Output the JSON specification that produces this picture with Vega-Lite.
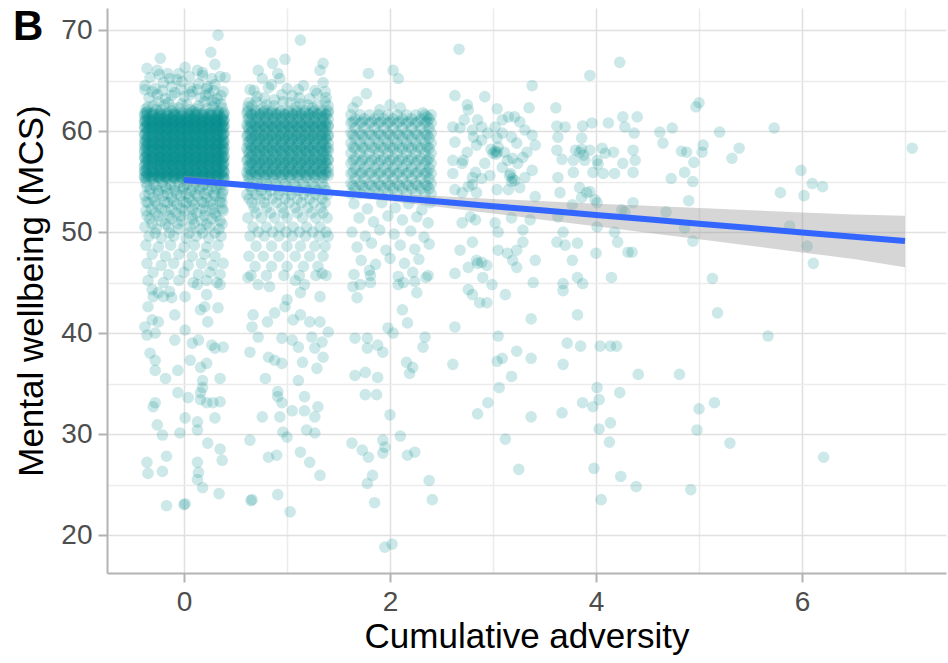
{"$schema":"https://vega.github.io/schema/vega-lite/v6.json",
"width":839,"height":565,"autosize":{"type":"none"},
"padding":{"left":107,"top":8,"right":2,"bottom":90},
"background":"white",
"config":{"view":{"stroke":null},"font":"Liberation Sans",
"axis":{"domainColor":"#b3b3b3","domainWidth":2,"tickColor":"#b3b3b3","tickWidth":2,"tickSize":9,"labelColor":"#4d4d4d","labelFontSize":28,"labelPadding":6,"titleFontSize":35,"titleFontWeight":"normal","titleColor":"#000000","gridWidth":1.5}},
"title":{"text":"B","anchor":"start","frame":"group","orient":"none","baseline":"alphabetic","align":"left","dy":32,"dx":-94,"fontSize":42,"fontWeight":"bold","color":"#000000"},
"datasets":{
"pts":[
{"x":-0.38,"y":55.5},{"x":-0.31,"y":55.5},{"x":-0.24,"y":55.5},{"x":-0.17,"y":55.5},{"x":-0.1,"y":55.5},{"x":-0.03,"y":55.5},{"x":0.04,"y":55.5},{"x":0.11,"y":55.5},{"x":0.18,"y":55.5},{"x":0.25,"y":55.5},{"x":0.32,"y":55.5},{"x":0.38,"y":55.5},
{"x":-0.38,"y":56.1},{"x":-0.31,"y":56.1},{"x":-0.24,"y":56.1},{"x":-0.17,"y":56.1},{"x":-0.1,"y":56.1},{"x":-0.03,"y":56.1},{"x":0.04,"y":56.1},{"x":0.11,"y":56.1},{"x":0.18,"y":56.1},{"x":0.25,"y":56.1},{"x":0.32,"y":56.1},{"x":0.38,"y":56.1},
{"x":-0.38,"y":56.7},{"x":-0.31,"y":56.7},{"x":-0.24,"y":56.7},{"x":-0.17,"y":56.7},{"x":-0.1,"y":56.7},{"x":-0.03,"y":56.7},{"x":0.04,"y":56.7},{"x":0.11,"y":56.7},{"x":0.18,"y":56.7},{"x":0.25,"y":56.7},{"x":0.32,"y":56.7},{"x":0.38,"y":56.7},
{"x":-0.38,"y":57.3},{"x":-0.31,"y":57.3},{"x":-0.24,"y":57.3},{"x":-0.17,"y":57.3},{"x":-0.1,"y":57.3},{"x":-0.03,"y":57.3},{"x":0.04,"y":57.3},{"x":0.11,"y":57.3},{"x":0.18,"y":57.3},{"x":0.25,"y":57.3},{"x":0.32,"y":57.3},{"x":0.38,"y":57.3},
{"x":-0.38,"y":57.9},{"x":-0.31,"y":57.9},{"x":-0.24,"y":57.9},{"x":-0.17,"y":57.9},{"x":-0.1,"y":57.9},{"x":-0.03,"y":57.9},{"x":0.04,"y":57.9},{"x":0.11,"y":57.9},{"x":0.18,"y":57.9},{"x":0.25,"y":57.9},{"x":0.32,"y":57.9},{"x":0.38,"y":57.9},
{"x":-0.38,"y":58.5},{"x":-0.31,"y":58.5},{"x":-0.24,"y":58.5},{"x":-0.17,"y":58.5},{"x":-0.1,"y":58.5},{"x":-0.03,"y":58.5},{"x":0.04,"y":58.5},{"x":0.11,"y":58.5},{"x":0.18,"y":58.5},{"x":0.25,"y":58.5},{"x":0.32,"y":58.5},{"x":0.38,"y":58.5},
{"x":-0.38,"y":59.1},{"x":-0.31,"y":59.1},{"x":-0.24,"y":59.1},{"x":-0.17,"y":59.1},{"x":-0.1,"y":59.1},{"x":-0.03,"y":59.1},{"x":0.04,"y":59.1},{"x":0.11,"y":59.1},{"x":0.18,"y":59.1},{"x":0.25,"y":59.1},{"x":0.32,"y":59.1},{"x":0.38,"y":59.1},
{"x":-0.38,"y":59.7},{"x":-0.31,"y":59.7},{"x":-0.24,"y":59.7},{"x":-0.17,"y":59.7},{"x":-0.1,"y":59.7},{"x":-0.03,"y":59.7},{"x":0.04,"y":59.7},{"x":0.11,"y":59.7},{"x":0.18,"y":59.7},{"x":0.25,"y":59.7},{"x":0.32,"y":59.7},{"x":0.38,"y":59.7},
{"x":-0.38,"y":60.3},{"x":-0.31,"y":60.3},{"x":-0.24,"y":60.3},{"x":-0.17,"y":60.3},{"x":-0.1,"y":60.3},{"x":-0.03,"y":60.3},{"x":0.04,"y":60.3},{"x":0.11,"y":60.3},{"x":0.18,"y":60.3},{"x":0.25,"y":60.3},{"x":0.32,"y":60.3},{"x":0.38,"y":60.3},
{"x":-0.38,"y":60.9},{"x":-0.31,"y":60.9},{"x":-0.24,"y":60.9},{"x":-0.17,"y":60.9},{"x":-0.1,"y":60.9},{"x":-0.03,"y":60.9},{"x":0.04,"y":60.9},{"x":0.11,"y":60.9},{"x":0.18,"y":60.9},{"x":0.25,"y":60.9},{"x":0.32,"y":60.9},{"x":0.38,"y":60.9},
{"x":-0.38,"y":61.5},{"x":-0.31,"y":61.5},{"x":-0.24,"y":61.5},{"x":-0.17,"y":61.5},{"x":-0.1,"y":61.5},{"x":-0.03,"y":61.5},{"x":0.04,"y":61.5},{"x":0.11,"y":61.5},{"x":0.18,"y":61.5},{"x":0.25,"y":61.5},{"x":0.32,"y":61.5},{"x":0.38,"y":61.5},
{"x":-0.35,"y":55.8},{"x":-0.27,"y":55.8},{"x":-0.2,"y":55.8},{"x":-0.13,"y":55.8},{"x":-0.06,"y":55.8},{"x":0.01,"y":55.8},{"x":0.08,"y":55.8},{"x":0.15,"y":55.8},{"x":0.22,"y":55.8},{"x":0.29,"y":55.8},{"x":0.36,"y":55.8},
{"x":-0.35,"y":56.4},{"x":-0.27,"y":56.4},{"x":-0.2,"y":56.4},{"x":-0.13,"y":56.4},{"x":-0.06,"y":56.4},{"x":0.01,"y":56.4},{"x":0.08,"y":56.4},{"x":0.15,"y":56.4},{"x":0.22,"y":56.4},{"x":0.29,"y":56.4},{"x":0.36,"y":56.4},
{"x":-0.35,"y":57},{"x":-0.27,"y":57},{"x":-0.2,"y":57},{"x":-0.13,"y":57},{"x":-0.06,"y":57},{"x":0.01,"y":57},{"x":0.08,"y":57},{"x":0.15,"y":57},{"x":0.22,"y":57},{"x":0.29,"y":57},{"x":0.36,"y":57},
{"x":-0.35,"y":57.6},{"x":-0.27,"y":57.6},{"x":-0.2,"y":57.6},{"x":-0.13,"y":57.6},{"x":-0.06,"y":57.6},{"x":0.01,"y":57.6},{"x":0.08,"y":57.6},{"x":0.15,"y":57.6},{"x":0.22,"y":57.6},{"x":0.29,"y":57.6},{"x":0.36,"y":57.6},
{"x":-0.35,"y":58.2},{"x":-0.27,"y":58.2},{"x":-0.2,"y":58.2},{"x":-0.13,"y":58.2},{"x":-0.06,"y":58.2},{"x":0.01,"y":58.2},{"x":0.08,"y":58.2},{"x":0.15,"y":58.2},{"x":0.22,"y":58.2},{"x":0.29,"y":58.2},{"x":0.36,"y":58.2},
{"x":-0.35,"y":58.8},{"x":-0.27,"y":58.8},{"x":-0.2,"y":58.8},{"x":-0.13,"y":58.8},{"x":-0.06,"y":58.8},{"x":0.01,"y":58.8},{"x":0.08,"y":58.8},{"x":0.15,"y":58.8},{"x":0.22,"y":58.8},{"x":0.29,"y":58.8},{"x":0.36,"y":58.8},
{"x":-0.35,"y":59.4},{"x":-0.27,"y":59.4},{"x":-0.2,"y":59.4},{"x":-0.13,"y":59.4},{"x":-0.06,"y":59.4},{"x":0.01,"y":59.4},{"x":0.08,"y":59.4},{"x":0.15,"y":59.4},{"x":0.22,"y":59.4},{"x":0.29,"y":59.4},{"x":0.36,"y":59.4},
{"x":-0.35,"y":60},{"x":-0.27,"y":60},{"x":-0.2,"y":60},{"x":-0.13,"y":60},{"x":-0.06,"y":60},{"x":0.01,"y":60},{"x":0.08,"y":60},{"x":0.15,"y":60},{"x":0.22,"y":60},{"x":0.29,"y":60},{"x":0.36,"y":60},
{"x":-0.35,"y":60.6},{"x":-0.27,"y":60.6},{"x":-0.2,"y":60.6},{"x":-0.13,"y":60.6},{"x":-0.06,"y":60.6},{"x":0.01,"y":60.6},{"x":0.08,"y":60.6},{"x":0.15,"y":60.6},{"x":0.22,"y":60.6},{"x":0.29,"y":60.6},{"x":0.36,"y":60.6},
{"x":-0.35,"y":61.2},{"x":-0.27,"y":61.2},{"x":-0.2,"y":61.2},{"x":-0.13,"y":61.2},{"x":-0.06,"y":61.2},{"x":0.01,"y":61.2},{"x":0.08,"y":61.2},{"x":0.15,"y":61.2},{"x":0.22,"y":61.2},{"x":0.29,"y":61.2},{"x":0.36,"y":61.2},
{"x":-0.36,"y":55.6},{"x":-0.29,"y":55.6},{"x":-0.22,"y":55.6},{"x":-0.15,"y":55.6},{"x":-0.08,"y":55.6},{"x":-0.01,"y":55.6},{"x":0.06,"y":55.6},{"x":0.13,"y":55.6},{"x":0.2,"y":55.6},{"x":0.27,"y":55.6},{"x":0.34,"y":55.6},
{"x":-0.36,"y":56.3},{"x":-0.29,"y":56.3},{"x":-0.22,"y":56.3},{"x":-0.15,"y":56.3},{"x":-0.08,"y":56.3},{"x":-0.01,"y":56.3},{"x":0.06,"y":56.3},{"x":0.13,"y":56.3},{"x":0.2,"y":56.3},{"x":0.27,"y":56.3},{"x":0.34,"y":56.3},
{"x":-0.36,"y":57.1},{"x":-0.29,"y":57.1},{"x":-0.22,"y":57.1},{"x":-0.15,"y":57.1},{"x":-0.08,"y":57.1},{"x":-0.01,"y":57.1},{"x":0.06,"y":57.1},{"x":0.13,"y":57.1},{"x":0.2,"y":57.1},{"x":0.27,"y":57.1},{"x":0.34,"y":57.1},
{"x":-0.36,"y":57.8},{"x":-0.29,"y":57.8},{"x":-0.22,"y":57.8},{"x":-0.15,"y":57.8},{"x":-0.08,"y":57.8},{"x":-0.01,"y":57.8},{"x":0.06,"y":57.8},{"x":0.13,"y":57.8},{"x":0.2,"y":57.8},{"x":0.27,"y":57.8},{"x":0.34,"y":57.8},
{"x":-0.36,"y":58.6},{"x":-0.29,"y":58.6},{"x":-0.22,"y":58.6},{"x":-0.15,"y":58.6},{"x":-0.08,"y":58.6},{"x":-0.01,"y":58.6},{"x":0.06,"y":58.6},{"x":0.13,"y":58.6},{"x":0.2,"y":58.6},{"x":0.27,"y":58.6},{"x":0.34,"y":58.6},
{"x":-0.36,"y":59.3},{"x":-0.29,"y":59.3},{"x":-0.22,"y":59.3},{"x":-0.15,"y":59.3},{"x":-0.08,"y":59.3},{"x":-0.01,"y":59.3},{"x":0.06,"y":59.3},{"x":0.13,"y":59.3},{"x":0.2,"y":59.3},{"x":0.27,"y":59.3},{"x":0.34,"y":59.3},
{"x":-0.36,"y":60.1},{"x":-0.29,"y":60.1},{"x":-0.22,"y":60.1},{"x":-0.15,"y":60.1},{"x":-0.08,"y":60.1},{"x":-0.01,"y":60.1},{"x":0.06,"y":60.1},{"x":0.13,"y":60.1},{"x":0.2,"y":60.1},{"x":0.27,"y":60.1},{"x":0.34,"y":60.1},
{"x":-0.36,"y":60.8},{"x":-0.29,"y":60.8},{"x":-0.22,"y":60.8},{"x":-0.15,"y":60.8},{"x":-0.08,"y":60.8},{"x":-0.01,"y":60.8},{"x":0.06,"y":60.8},{"x":0.13,"y":60.8},{"x":0.2,"y":60.8},{"x":0.27,"y":60.8},{"x":0.34,"y":60.8},
{"x":-0.36,"y":61.6},{"x":-0.29,"y":61.6},{"x":-0.22,"y":61.6},{"x":-0.15,"y":61.6},{"x":-0.08,"y":61.6},{"x":-0.01,"y":61.6},{"x":0.06,"y":61.6},{"x":0.13,"y":61.6},{"x":0.2,"y":61.6},{"x":0.27,"y":61.6},{"x":0.34,"y":61.6},
{"x":-0.37,"y":55.3},{"x":-0.3,"y":55.3},{"x":-0.23,"y":55.3},{"x":-0.16,"y":55.3},{"x":-0.09,"y":55.3},{"x":-0.02,"y":55.3},{"x":0.05,"y":55.3},{"x":0.12,"y":55.3},{"x":0.19,"y":55.3},{"x":0.26,"y":55.3},{"x":0.33,"y":55.3},{"x":0.39,"y":55.3},
{"x":-0.37,"y":55.9},{"x":-0.3,"y":55.9},{"x":-0.23,"y":55.9},{"x":-0.16,"y":55.9},{"x":-0.09,"y":55.9},{"x":-0.02,"y":55.9},{"x":0.05,"y":55.9},{"x":0.12,"y":55.9},{"x":0.19,"y":55.9},{"x":0.26,"y":55.9},{"x":0.33,"y":55.9},{"x":0.39,"y":55.9},
{"x":-0.37,"y":56.9},{"x":-0.3,"y":56.9},{"x":-0.23,"y":56.9},{"x":-0.16,"y":56.9},{"x":-0.09,"y":56.9},{"x":-0.02,"y":56.9},{"x":0.05,"y":56.9},{"x":0.12,"y":56.9},{"x":0.19,"y":56.9},{"x":0.26,"y":56.9},{"x":0.33,"y":56.9},{"x":0.39,"y":56.9},
{"x":-0.37,"y":57.5},{"x":-0.3,"y":57.5},{"x":-0.23,"y":57.5},{"x":-0.16,"y":57.5},{"x":-0.09,"y":57.5},{"x":-0.02,"y":57.5},{"x":0.05,"y":57.5},{"x":0.12,"y":57.5},{"x":0.19,"y":57.5},{"x":0.26,"y":57.5},{"x":0.33,"y":57.5},{"x":0.39,"y":57.5},
{"x":-0.37,"y":58.3},{"x":-0.3,"y":58.3},{"x":-0.23,"y":58.3},{"x":-0.16,"y":58.3},{"x":-0.09,"y":58.3},{"x":-0.02,"y":58.3},{"x":0.05,"y":58.3},{"x":0.12,"y":58.3},{"x":0.19,"y":58.3},{"x":0.26,"y":58.3},{"x":0.33,"y":58.3},{"x":0.39,"y":58.3},
{"x":-0.37,"y":59},{"x":-0.3,"y":59},{"x":-0.23,"y":59},{"x":-0.16,"y":59},{"x":-0.09,"y":59},{"x":-0.02,"y":59},{"x":0.05,"y":59},{"x":0.12,"y":59},{"x":0.19,"y":59},{"x":0.26,"y":59},{"x":0.33,"y":59},{"x":0.39,"y":59},
{"x":-0.37,"y":59.8},{"x":-0.3,"y":59.8},{"x":-0.23,"y":59.8},{"x":-0.16,"y":59.8},{"x":-0.09,"y":59.8},{"x":-0.02,"y":59.8},{"x":0.05,"y":59.8},{"x":0.12,"y":59.8},{"x":0.19,"y":59.8},{"x":0.26,"y":59.8},{"x":0.33,"y":59.8},{"x":0.39,"y":59.8},
{"x":-0.37,"y":60.5},{"x":-0.3,"y":60.5},{"x":-0.23,"y":60.5},{"x":-0.16,"y":60.5},{"x":-0.09,"y":60.5},{"x":-0.02,"y":60.5},{"x":0.05,"y":60.5},{"x":0.12,"y":60.5},{"x":0.19,"y":60.5},{"x":0.26,"y":60.5},{"x":0.33,"y":60.5},{"x":0.39,"y":60.5},
{"x":-0.37,"y":61.1},{"x":-0.3,"y":61.1},{"x":-0.23,"y":61.1},{"x":-0.16,"y":61.1},{"x":-0.09,"y":61.1},{"x":-0.02,"y":61.1},{"x":0.05,"y":61.1},{"x":0.12,"y":61.1},{"x":0.19,"y":61.1},{"x":0.26,"y":61.1},{"x":0.33,"y":61.1},{"x":0.39,"y":61.1},
{"x":-0.37,"y":61.8},{"x":-0.3,"y":61.8},{"x":-0.23,"y":61.8},{"x":-0.16,"y":61.8},{"x":-0.09,"y":61.8},{"x":-0.02,"y":61.8},{"x":0.05,"y":61.8},{"x":0.12,"y":61.8},{"x":0.19,"y":61.8},{"x":0.26,"y":61.8},{"x":0.33,"y":61.8},{"x":0.39,"y":61.8},
{"x":-0.34,"y":55.5},{"x":-0.26,"y":55.5},{"x":-0.19,"y":55.5},{"x":-0.12,"y":55.5},{"x":-0.05,"y":55.5},{"x":0.02,"y":55.5},{"x":0.09,"y":55.5},{"x":0.16,"y":55.5},{"x":0.23,"y":55.5},{"x":0.3,"y":55.5},{"x":0.37,"y":55.5},
{"x":-0.34,"y":56.6},{"x":-0.26,"y":56.6},{"x":-0.19,"y":56.6},{"x":-0.12,"y":56.6},{"x":-0.05,"y":56.6},{"x":0.02,"y":56.6},{"x":0.09,"y":56.6},{"x":0.16,"y":56.6},{"x":0.23,"y":56.6},{"x":0.3,"y":56.6},{"x":0.37,"y":56.6},
{"x":-0.34,"y":57.2},{"x":-0.26,"y":57.2},{"x":-0.19,"y":57.2},{"x":-0.12,"y":57.2},{"x":-0.05,"y":57.2},{"x":0.02,"y":57.2},{"x":0.09,"y":57.2},{"x":0.16,"y":57.2},{"x":0.23,"y":57.2},{"x":0.3,"y":57.2},{"x":0.37,"y":57.2},
{"x":-0.34,"y":58},{"x":-0.26,"y":58},{"x":-0.19,"y":58},{"x":-0.12,"y":58},{"x":-0.05,"y":58},{"x":0.02,"y":58},{"x":0.09,"y":58},{"x":0.16,"y":58},{"x":0.23,"y":58},{"x":0.3,"y":58},{"x":0.37,"y":58},
{"x":-0.34,"y":58.7},{"x":-0.26,"y":58.7},{"x":-0.19,"y":58.7},{"x":-0.12,"y":58.7},{"x":-0.05,"y":58.7},{"x":0.02,"y":58.7},{"x":0.09,"y":58.7},{"x":0.16,"y":58.7},{"x":0.23,"y":58.7},{"x":0.3,"y":58.7},{"x":0.37,"y":58.7},
{"x":-0.34,"y":59.5},{"x":-0.26,"y":59.5},{"x":-0.19,"y":59.5},{"x":-0.12,"y":59.5},{"x":-0.05,"y":59.5},{"x":0.02,"y":59.5},{"x":0.09,"y":59.5},{"x":0.16,"y":59.5},{"x":0.23,"y":59.5},{"x":0.3,"y":59.5},{"x":0.37,"y":59.5},
{"x":-0.34,"y":60.2},{"x":-0.26,"y":60.2},{"x":-0.19,"y":60.2},{"x":-0.12,"y":60.2},{"x":-0.05,"y":60.2},{"x":0.02,"y":60.2},{"x":0.09,"y":60.2},{"x":0.16,"y":60.2},{"x":0.23,"y":60.2},{"x":0.3,"y":60.2},{"x":0.37,"y":60.2},
{"x":-0.34,"y":60.7},{"x":-0.26,"y":60.7},{"x":-0.19,"y":60.7},{"x":-0.12,"y":60.7},{"x":-0.05,"y":60.7},{"x":0.02,"y":60.7},{"x":0.09,"y":60.7},{"x":0.16,"y":60.7},{"x":0.23,"y":60.7},{"x":0.3,"y":60.7},{"x":0.37,"y":60.7},
{"x":-0.34,"y":61.3},{"x":-0.26,"y":61.3},{"x":-0.19,"y":61.3},{"x":-0.12,"y":61.3},{"x":-0.05,"y":61.3},{"x":0.02,"y":61.3},{"x":0.09,"y":61.3},{"x":0.16,"y":61.3},{"x":0.23,"y":61.3},{"x":0.3,"y":61.3},{"x":0.37,"y":61.3},
{"x":-0.385,"y":55.4},{"x":-0.315,"y":55.4},{"x":-0.245,"y":55.4},{"x":-0.175,"y":55.4},{"x":-0.105,"y":55.4},{"x":-0.035,"y":55.4},{"x":0.035,"y":55.4},{"x":0.105,"y":55.4},{"x":0.175,"y":55.4},{"x":0.245,"y":55.4},{"x":0.315,"y":55.4},{"x":0.385,"y":55.4},
{"x":-0.385,"y":56},{"x":-0.315,"y":56},{"x":-0.245,"y":56},{"x":-0.175,"y":56},{"x":-0.105,"y":56},{"x":-0.035,"y":56},{"x":0.035,"y":56},{"x":0.105,"y":56},{"x":0.175,"y":56},{"x":0.245,"y":56},{"x":0.315,"y":56},{"x":0.385,"y":56},
{"x":-0.385,"y":56.5},{"x":-0.315,"y":56.5},{"x":-0.245,"y":56.5},{"x":-0.175,"y":56.5},{"x":-0.105,"y":56.5},{"x":-0.035,"y":56.5},{"x":0.035,"y":56.5},{"x":0.105,"y":56.5},{"x":0.175,"y":56.5},{"x":0.245,"y":56.5},{"x":0.315,"y":56.5},{"x":0.385,"y":56.5},
{"x":-0.385,"y":57.4},{"x":-0.315,"y":57.4},{"x":-0.245,"y":57.4},{"x":-0.175,"y":57.4},{"x":-0.105,"y":57.4},{"x":-0.035,"y":57.4},{"x":0.035,"y":57.4},{"x":0.105,"y":57.4},{"x":0.175,"y":57.4},{"x":0.245,"y":57.4},{"x":0.315,"y":57.4},{"x":0.385,"y":57.4},
{"x":-0.385,"y":58.1},{"x":-0.315,"y":58.1},{"x":-0.245,"y":58.1},{"x":-0.175,"y":58.1},{"x":-0.105,"y":58.1},{"x":-0.035,"y":58.1},{"x":0.035,"y":58.1},{"x":0.105,"y":58.1},{"x":0.175,"y":58.1},{"x":0.245,"y":58.1},{"x":0.315,"y":58.1},{"x":0.385,"y":58.1},
{"x":-0.385,"y":58.8},{"x":-0.315,"y":58.8},{"x":-0.245,"y":58.8},{"x":-0.175,"y":58.8},{"x":-0.105,"y":58.8},{"x":-0.035,"y":58.8},{"x":0.035,"y":58.8},{"x":0.105,"y":58.8},{"x":0.175,"y":58.8},{"x":0.245,"y":58.8},{"x":0.315,"y":58.8},{"x":0.385,"y":58.8},
{"x":-0.385,"y":59.6},{"x":-0.315,"y":59.6},{"x":-0.245,"y":59.6},{"x":-0.175,"y":59.6},{"x":-0.105,"y":59.6},{"x":-0.035,"y":59.6},{"x":0.035,"y":59.6},{"x":0.105,"y":59.6},{"x":0.175,"y":59.6},{"x":0.245,"y":59.6},{"x":0.315,"y":59.6},{"x":0.385,"y":59.6},
{"x":-0.385,"y":60.4},{"x":-0.315,"y":60.4},{"x":-0.245,"y":60.4},{"x":-0.175,"y":60.4},{"x":-0.105,"y":60.4},{"x":-0.035,"y":60.4},{"x":0.035,"y":60.4},{"x":0.105,"y":60.4},{"x":0.175,"y":60.4},{"x":0.245,"y":60.4},{"x":0.315,"y":60.4},{"x":0.385,"y":60.4},
{"x":-0.385,"y":61},{"x":-0.315,"y":61},{"x":-0.245,"y":61},{"x":-0.175,"y":61},{"x":-0.105,"y":61},{"x":-0.035,"y":61},{"x":0.035,"y":61},{"x":0.105,"y":61},{"x":0.175,"y":61},{"x":0.245,"y":61},{"x":0.315,"y":61},{"x":0.385,"y":61},
{"x":-0.385,"y":61.7},{"x":-0.315,"y":61.7},{"x":-0.245,"y":61.7},{"x":-0.175,"y":61.7},{"x":-0.105,"y":61.7},{"x":-0.035,"y":61.7},{"x":0.035,"y":61.7},{"x":0.105,"y":61.7},{"x":0.175,"y":61.7},{"x":0.245,"y":61.7},{"x":0.315,"y":61.7},{"x":0.385,"y":61.7},
{"x":-0.37,"y":62.2},{"x":-0.3,"y":62.5},{"x":-0.22,"y":62.1},{"x":-0.15,"y":62.8},{"x":-0.05,"y":62.3},{"x":0.03,"y":62.6},{"x":0.12,"y":62.2},{"x":0.2,"y":62.9},{"x":0.28,"y":62.4},{"x":0.36,"y":62.7},{"x":-0.34,"y":63.3},{"x":-0.26,"y":63.6},{"x":-0.18,"y":63.2},{"x":-0.09,"y":63.8},{"x":0,"y":63.4},{"x":0.08,"y":63.9},{"x":0.16,"y":63.3},{"x":0.24,"y":63.7},{"x":0.32,"y":63.2},{"x":0.38,"y":63.9},{"x":-0.38,"y":64.5},{"x":-0.28,"y":64.2},{"x":-0.2,"y":64.8},{"x":-0.12,"y":64.4},{"x":-0.02,"y":64.9},{"x":0.06,"y":64.3},{"x":0.14,"y":64.7},{"x":0.22,"y":64.2},{"x":0.3,"y":64.6},{"x":-0.33,"y":65.3},{"x":-0.24,"y":65.6},{"x":-0.14,"y":65.2},{"x":-0.05,"y":65.7},{"x":0.05,"y":65.4},{"x":0.18,"y":65.5},{"x":0.27,"y":65.2},{"x":0.35,"y":65.4},{"x":-0.36,"y":61.9},{"x":-0.11,"y":62},{"x":0.09,"y":61.95},{"x":0.33,"y":62},{"x":-0.25,"y":62.9},{"x":0.27,"y":63},
{"x":-0.35,"y":62.4},{"x":-0.27,"y":62.1},{"x":-0.19,"y":62.6},{"x":-0.11,"y":62.3},{"x":-0.02,"y":62.7},{"x":0.06,"y":62.1},{"x":0.14,"y":62.5},{"x":0.22,"y":62.2},{"x":0.3,"y":62.8},{"x":0.37,"y":62.3},{"x":-0.31,"y":63.9},{"x":-0.21,"y":64},{"x":-0.12,"y":63.5},{"x":-0.03,"y":64.1},{"x":0.06,"y":63.6},{"x":0.13,"y":64.1},{"x":0.21,"y":63.5},{"x":0.29,"y":64},{"x":0.36,"y":63.5},{"x":-0.07,"y":65.1},
{"x":0.33,"y":69.5},{"x":0.26,"y":67.8},{"x":-0.23,"y":67.2},{"x":0.3,"y":66.6},{"x":-0.36,"y":66.2},{"x":-0.26,"y":66},{"x":0.01,"y":66.3},{"x":0.13,"y":66},{"x":0.4,"y":65.3},{"x":-0.38,"y":64.1},{"x":0.23,"y":64.4},{"x":-0.16,"y":65.7},{"x":0.18,"y":65.8},
{"x":-0.37,"y":54.9},{"x":-0.29,"y":54.7},{"x":-0.21,"y":54.9},{"x":-0.13,"y":54.7},{"x":-0.05,"y":54.9},{"x":0.03,"y":54.7},{"x":0.11,"y":54.9},{"x":0.19,"y":54.7},{"x":0.27,"y":54.9},{"x":0.35,"y":54.7},
{"x":-0.33,"y":54.3},{"x":-0.25,"y":54.1},{"x":-0.17,"y":54.3},{"x":-0.09,"y":54.1},{"x":-0.01,"y":54.3},{"x":0.07,"y":54.1},{"x":0.15,"y":54.3},{"x":0.23,"y":54.1},{"x":0.31,"y":54.3},{"x":0.38,"y":54.1},
{"x":-0.38,"y":53.6},{"x":-0.3,"y":53.4},{"x":-0.2,"y":53.6},{"x":-0.12,"y":53.4},{"x":-0.03,"y":53.6},{"x":0.05,"y":53.4},{"x":0.13,"y":53.6},{"x":0.22,"y":53.4},{"x":0.3,"y":53.6},{"x":0.36,"y":53.4},
{"x":-0.35,"y":52.9},{"x":-0.26,"y":52.7},{"x":-0.16,"y":52.9},{"x":-0.07,"y":52.7},{"x":0.02,"y":52.9},{"x":0.1,"y":52.7},{"x":0.19,"y":52.9},{"x":0.28,"y":52.7},{"x":0.37,"y":52.9},
{"x":-0.37,"y":52.1},{"x":-0.28,"y":51.9},{"x":-0.18,"y":52.1},{"x":-0.08,"y":51.9},{"x":0.01,"y":52.1},{"x":0.12,"y":51.9},{"x":0.21,"y":52.1},{"x":0.3,"y":51.9},{"x":0.38,"y":52.1},
{"x":-0.33,"y":51.3},{"x":-0.22,"y":51.1},{"x":-0.12,"y":51.3},{"x":-0.02,"y":51.1},{"x":0.08,"y":51.3},{"x":0.17,"y":51.1},{"x":0.27,"y":51.3},{"x":0.35,"y":51.1},
{"x":-0.38,"y":50.5},{"x":-0.27,"y":50.3},{"x":-0.15,"y":50.5},{"x":-0.05,"y":50.3},{"x":0.06,"y":50.5},{"x":0.16,"y":50.3},{"x":0.25,"y":50.5},{"x":0.34,"y":50.3},
{"x":-0.34,"y":49.6},{"x":-0.22,"y":49.4},{"x":-0.1,"y":49.6},{"x":0.02,"y":49.4},{"x":0.12,"y":49.6},{"x":0.24,"y":49.4},{"x":0.36,"y":49.6},
{"x":-0.37,"y":48.7},{"x":-0.25,"y":48.5},{"x":-0.13,"y":48.7},{"x":0,"y":48.5},{"x":0.1,"y":48.7},{"x":0.22,"y":48.5},{"x":0.33,"y":48.7},
{"x":-0.31,"y":47.8},{"x":-0.18,"y":47.6},{"x":-0.05,"y":47.8},{"x":0.08,"y":47.6},{"x":0.2,"y":47.8},{"x":0.3,"y":47.6},
{"x":-0.36,"y":46.9},{"x":-0.22,"y":46.7},{"x":-0.1,"y":46.9},{"x":0.04,"y":46.7},{"x":0.17,"y":46.9},{"x":0.28,"y":46.7},{"x":0.38,"y":46.9},
{"x":-0.3,"y":46},{"x":-0.15,"y":45.8},{"x":0,"y":46},{"x":0.14,"y":45.8},{"x":0.25,"y":46},{"x":0.35,"y":45.8},
{"x":-0.35,"y":45.2},{"x":-0.2,"y":45},{"x":-0.05,"y":45.2},{"x":0.09,"y":45},{"x":0.22,"y":45.2},{"x":0.32,"y":45},
{"x":-0.36,"y":54.5},{"x":-0.27,"y":54.5},{"x":-0.18,"y":54.5},{"x":-0.09,"y":54.5},{"x":0,"y":54.5},{"x":0.09,"y":54.5},{"x":0.18,"y":54.5},{"x":0.27,"y":54.5},{"x":0.36,"y":54.5},
{"x":-0.34,"y":53.8},{"x":-0.25,"y":53.8},{"x":-0.16,"y":53.8},{"x":-0.07,"y":53.8},{"x":0.02,"y":53.8},{"x":0.11,"y":53.8},{"x":0.2,"y":53.8},{"x":0.29,"y":53.8},{"x":0.37,"y":53.8},
{"x":-0.37,"y":53},{"x":-0.28,"y":53},{"x":-0.19,"y":53},{"x":-0.1,"y":53},{"x":-0.01,"y":53},{"x":0.08,"y":53},{"x":0.17,"y":53},{"x":0.26,"y":53},{"x":0.35,"y":53},
{"x":-0.32,"y":52.3},{"x":-0.22,"y":52.3},{"x":-0.12,"y":52.3},{"x":-0.02,"y":52.3},{"x":0.08,"y":52.3},{"x":0.18,"y":52.3},{"x":0.28,"y":52.3},{"x":0.37,"y":52.3},
{"x":-0.36,"y":51.6},{"x":-0.25,"y":51.6},{"x":-0.14,"y":51.6},{"x":-0.03,"y":51.6},{"x":0.08,"y":51.6},{"x":0.2,"y":51.6},{"x":0.31,"y":51.6},
{"x":-0.31,"y":50.8},{"x":-0.18,"y":50.8},{"x":-0.06,"y":50.8},{"x":0.1,"y":50.8},{"x":0.22,"y":50.8},{"x":0.37,"y":50.8},
{"x":-0.28,"y":49.9},{"x":-0.14,"y":49.9},{"x":0.05,"y":49.9},{"x":0.18,"y":49.9},{"x":0.3,"y":49.9},
{"x":-0.31,"y":44.3},{"x":-0.25,"y":44},{"x":-0.3,"y":43.6},{"x":-0.35,"y":42.6},{"x":-0.2,"y":43.6},{"x":-0.12,"y":43.5},{"x":-0.14,"y":44.1},{"x":0.01,"y":43.6},{"x":0.13,"y":44.8},{"x":0.22,"y":43.8},{"x":0.35,"y":44.8},{"x":0.2,"y":42.6},{"x":0.16,"y":42.3},{"x":0.23,"y":41.1},{"x":0.33,"y":42.5},{"x":-0.09,"y":41.8},{"x":-0.25,"y":41.1},{"x":-0.31,"y":41.3},{"x":-0.38,"y":40.6},{"x":-0.36,"y":39.8},{"x":-0.28,"y":40},{"x":-0.09,"y":39.3},{"x":0.01,"y":40.3},{"x":0.08,"y":39},{"x":0.14,"y":39.3},{"x":0.27,"y":38.8},{"x":0.3,"y":38.5},{"x":0.38,"y":38.6},{"x":-0.33,"y":38},{"x":-0.28,"y":37.3},{"x":-0.28,"y":36.3},{"x":-0.18,"y":35.5},{"x":-0.06,"y":36.3},{"x":0.06,"y":37.3},{"x":0.16,"y":36.6},{"x":0.22,"y":37},{"x":0.35,"y":35.5},{"x":0.18,"y":35.3},{"x":0.18,"y":34.6},{"x":-0.06,"y":34.1},{"x":0.04,"y":33.6},{"x":0.16,"y":34.1},{"x":0.22,"y":33.1},{"x":0.16,"y":33.4},{"x":0.28,"y":33.1},{"x":0.35,"y":33.2},{"x":-0.28,"y":33.1},{"x":-0.3,"y":32.7},{"x":0.3,"y":31.6},{"x":0.01,"y":31.6},{"x":0.13,"y":31.2},{"x":-0.26,"y":30.9},{"x":-0.21,"y":29.9},{"x":-0.04,"y":30.1},{"x":0.13,"y":30.4},{"x":0.23,"y":29.1},{"x":0.35,"y":28.5},{"x":0.37,"y":27.4},{"x":-0.17,"y":27.8},{"x":-0.36,"y":27.2},{"x":-0.35,"y":26.1},{"x":-0.21,"y":26.3},{"x":0.13,"y":27.2},{"x":0.14,"y":26.2},{"x":0.13,"y":25.5},{"x":0.18,"y":24.7},{"x":0.34,"y":24.1},{"x":-0.17,"y":22.9},{"x":0.01,"y":23.1},{"x":0.0,"y":23.0},
{"x":0.62,"y":55.6},{"x":0.7,"y":55.6},{"x":0.78,"y":55.6},{"x":0.86,"y":55.6},{"x":0.94,"y":55.6},{"x":1.02,"y":55.6},{"x":1.1,"y":55.6},{"x":1.18,"y":55.6},{"x":1.26,"y":55.6},{"x":1.34,"y":55.6},{"x":1.4,"y":55.6},
{"x":0.62,"y":56.4},{"x":0.7,"y":56.4},{"x":0.78,"y":56.4},{"x":0.86,"y":56.4},{"x":0.94,"y":56.4},{"x":1.02,"y":56.4},{"x":1.1,"y":56.4},{"x":1.18,"y":56.4},{"x":1.26,"y":56.4},{"x":1.34,"y":56.4},{"x":1.4,"y":56.4},
{"x":0.62,"y":57.2},{"x":0.7,"y":57.2},{"x":0.78,"y":57.2},{"x":0.86,"y":57.2},{"x":0.94,"y":57.2},{"x":1.02,"y":57.2},{"x":1.1,"y":57.2},{"x":1.18,"y":57.2},{"x":1.26,"y":57.2},{"x":1.34,"y":57.2},{"x":1.4,"y":57.2},
{"x":0.62,"y":58},{"x":0.7,"y":58},{"x":0.78,"y":58},{"x":0.86,"y":58},{"x":0.94,"y":58},{"x":1.02,"y":58},{"x":1.1,"y":58},{"x":1.18,"y":58},{"x":1.26,"y":58},{"x":1.34,"y":58},{"x":1.4,"y":58},
{"x":0.62,"y":58.8},{"x":0.7,"y":58.8},{"x":0.78,"y":58.8},{"x":0.86,"y":58.8},{"x":0.94,"y":58.8},{"x":1.02,"y":58.8},{"x":1.1,"y":58.8},{"x":1.18,"y":58.8},{"x":1.26,"y":58.8},{"x":1.34,"y":58.8},{"x":1.4,"y":58.8},
{"x":0.62,"y":59.6},{"x":0.7,"y":59.6},{"x":0.78,"y":59.6},{"x":0.86,"y":59.6},{"x":0.94,"y":59.6},{"x":1.02,"y":59.6},{"x":1.1,"y":59.6},{"x":1.18,"y":59.6},{"x":1.26,"y":59.6},{"x":1.34,"y":59.6},{"x":1.4,"y":59.6},
{"x":0.62,"y":60.4},{"x":0.7,"y":60.4},{"x":0.78,"y":60.4},{"x":0.86,"y":60.4},{"x":0.94,"y":60.4},{"x":1.02,"y":60.4},{"x":1.1,"y":60.4},{"x":1.18,"y":60.4},{"x":1.26,"y":60.4},{"x":1.34,"y":60.4},{"x":1.4,"y":60.4},
{"x":0.62,"y":61.2},{"x":0.7,"y":61.2},{"x":0.78,"y":61.2},{"x":0.86,"y":61.2},{"x":0.94,"y":61.2},{"x":1.02,"y":61.2},{"x":1.1,"y":61.2},{"x":1.18,"y":61.2},{"x":1.26,"y":61.2},{"x":1.34,"y":61.2},{"x":1.4,"y":61.2},
{"x":0.62,"y":62},{"x":0.7,"y":62},{"x":0.78,"y":62},{"x":0.86,"y":62},{"x":0.94,"y":62},{"x":1.02,"y":62},{"x":1.1,"y":62},{"x":1.18,"y":62},{"x":1.26,"y":62},{"x":1.34,"y":62},{"x":1.4,"y":62},
{"x":0.66,"y":56},{"x":0.74,"y":56},{"x":0.82,"y":56},{"x":0.9,"y":56},{"x":0.98,"y":56},{"x":1.06,"y":56},{"x":1.14,"y":56},{"x":1.22,"y":56},{"x":1.3,"y":56},{"x":1.38,"y":56},
{"x":0.66,"y":56.8},{"x":0.74,"y":56.8},{"x":0.82,"y":56.8},{"x":0.9,"y":56.8},{"x":0.98,"y":56.8},{"x":1.06,"y":56.8},{"x":1.14,"y":56.8},{"x":1.22,"y":56.8},{"x":1.3,"y":56.8},{"x":1.38,"y":56.8},
{"x":0.66,"y":57.6},{"x":0.74,"y":57.6},{"x":0.82,"y":57.6},{"x":0.9,"y":57.6},{"x":0.98,"y":57.6},{"x":1.06,"y":57.6},{"x":1.14,"y":57.6},{"x":1.22,"y":57.6},{"x":1.3,"y":57.6},{"x":1.38,"y":57.6},
{"x":0.66,"y":58.4},{"x":0.74,"y":58.4},{"x":0.82,"y":58.4},{"x":0.9,"y":58.4},{"x":0.98,"y":58.4},{"x":1.06,"y":58.4},{"x":1.14,"y":58.4},{"x":1.22,"y":58.4},{"x":1.3,"y":58.4},{"x":1.38,"y":58.4},
{"x":0.66,"y":59.2},{"x":0.74,"y":59.2},{"x":0.82,"y":59.2},{"x":0.9,"y":59.2},{"x":0.98,"y":59.2},{"x":1.06,"y":59.2},{"x":1.14,"y":59.2},{"x":1.22,"y":59.2},{"x":1.3,"y":59.2},{"x":1.38,"y":59.2},
{"x":0.66,"y":60},{"x":0.74,"y":60},{"x":0.82,"y":60},{"x":0.9,"y":60},{"x":0.98,"y":60},{"x":1.06,"y":60},{"x":1.14,"y":60},{"x":1.22,"y":60},{"x":1.3,"y":60},{"x":1.38,"y":60},
{"x":0.66,"y":60.8},{"x":0.74,"y":60.8},{"x":0.82,"y":60.8},{"x":0.9,"y":60.8},{"x":0.98,"y":60.8},{"x":1.06,"y":60.8},{"x":1.14,"y":60.8},{"x":1.22,"y":60.8},{"x":1.3,"y":60.8},{"x":1.38,"y":60.8},
{"x":0.66,"y":61.6},{"x":0.74,"y":61.6},{"x":0.82,"y":61.6},{"x":0.9,"y":61.6},{"x":0.98,"y":61.6},{"x":1.06,"y":61.6},{"x":1.14,"y":61.6},{"x":1.22,"y":61.6},{"x":1.3,"y":61.6},{"x":1.38,"y":61.6},
{"x":0.64,"y":56.2},{"x":0.72,"y":56.2},{"x":0.8,"y":56.2},{"x":0.88,"y":56.2},{"x":0.96,"y":56.2},{"x":1.04,"y":56.2},{"x":1.12,"y":56.2},{"x":1.2,"y":56.2},{"x":1.28,"y":56.2},{"x":1.36,"y":56.2},
{"x":0.64,"y":57.4},{"x":0.72,"y":57.4},{"x":0.8,"y":57.4},{"x":0.88,"y":57.4},{"x":0.96,"y":57.4},{"x":1.04,"y":57.4},{"x":1.12,"y":57.4},{"x":1.2,"y":57.4},{"x":1.28,"y":57.4},{"x":1.36,"y":57.4},
{"x":0.64,"y":58.6},{"x":0.72,"y":58.6},{"x":0.8,"y":58.6},{"x":0.88,"y":58.6},{"x":0.96,"y":58.6},{"x":1.04,"y":58.6},{"x":1.12,"y":58.6},{"x":1.2,"y":58.6},{"x":1.28,"y":58.6},{"x":1.36,"y":58.6},
{"x":0.64,"y":59.8},{"x":0.72,"y":59.8},{"x":0.8,"y":59.8},{"x":0.88,"y":59.8},{"x":0.96,"y":59.8},{"x":1.04,"y":59.8},{"x":1.12,"y":59.8},{"x":1.2,"y":59.8},{"x":1.28,"y":59.8},{"x":1.36,"y":59.8},
{"x":0.64,"y":60.9},{"x":0.72,"y":60.9},{"x":0.8,"y":60.9},{"x":0.88,"y":60.9},{"x":0.96,"y":60.9},{"x":1.04,"y":60.9},{"x":1.12,"y":60.9},{"x":1.2,"y":60.9},{"x":1.28,"y":60.9},{"x":1.36,"y":60.9},
{"x":0.63,"y":55.4},{"x":0.71,"y":55.4},{"x":0.79,"y":55.4},{"x":0.87,"y":55.4},{"x":0.95,"y":55.4},{"x":1.03,"y":55.4},{"x":1.11,"y":55.4},{"x":1.19,"y":55.4},{"x":1.27,"y":55.4},{"x":1.35,"y":55.4},
{"x":0.63,"y":56.6},{"x":0.71,"y":56.6},{"x":0.79,"y":56.6},{"x":0.87,"y":56.6},{"x":0.95,"y":56.6},{"x":1.03,"y":56.6},{"x":1.11,"y":56.6},{"x":1.19,"y":56.6},{"x":1.27,"y":56.6},{"x":1.35,"y":56.6},
{"x":0.63,"y":57.8},{"x":0.71,"y":57.8},{"x":0.79,"y":57.8},{"x":0.87,"y":57.8},{"x":0.95,"y":57.8},{"x":1.03,"y":57.8},{"x":1.11,"y":57.8},{"x":1.19,"y":57.8},{"x":1.27,"y":57.8},{"x":1.35,"y":57.8},
{"x":0.63,"y":59},{"x":0.71,"y":59},{"x":0.79,"y":59},{"x":0.87,"y":59},{"x":0.95,"y":59},{"x":1.03,"y":59},{"x":1.11,"y":59},{"x":1.19,"y":59},{"x":1.27,"y":59},{"x":1.35,"y":59},
{"x":0.63,"y":60.2},{"x":0.71,"y":60.2},{"x":0.79,"y":60.2},{"x":0.87,"y":60.2},{"x":0.95,"y":60.2},{"x":1.03,"y":60.2},{"x":1.11,"y":60.2},{"x":1.19,"y":60.2},{"x":1.27,"y":60.2},{"x":1.35,"y":60.2},
{"x":0.63,"y":61.4},{"x":0.71,"y":61.4},{"x":0.79,"y":61.4},{"x":0.87,"y":61.4},{"x":0.95,"y":61.4},{"x":1.03,"y":61.4},{"x":1.11,"y":61.4},{"x":1.19,"y":61.4},{"x":1.27,"y":61.4},{"x":1.35,"y":61.4},
{"x":0.61,"y":55.9},{"x":0.69,"y":55.9},{"x":0.77,"y":55.9},{"x":0.85,"y":55.9},{"x":0.93,"y":55.9},{"x":1.01,"y":55.9},{"x":1.09,"y":55.9},{"x":1.17,"y":55.9},{"x":1.25,"y":55.9},{"x":1.33,"y":55.9},{"x":1.4,"y":55.9},
{"x":0.61,"y":57.1},{"x":0.69,"y":57.1},{"x":0.77,"y":57.1},{"x":0.85,"y":57.1},{"x":0.93,"y":57.1},{"x":1.01,"y":57.1},{"x":1.09,"y":57.1},{"x":1.17,"y":57.1},{"x":1.25,"y":57.1},{"x":1.33,"y":57.1},{"x":1.4,"y":57.1},
{"x":0.61,"y":58.3},{"x":0.69,"y":58.3},{"x":0.77,"y":58.3},{"x":0.85,"y":58.3},{"x":0.93,"y":58.3},{"x":1.01,"y":58.3},{"x":1.09,"y":58.3},{"x":1.17,"y":58.3},{"x":1.25,"y":58.3},{"x":1.33,"y":58.3},{"x":1.4,"y":58.3},
{"x":0.61,"y":59.5},{"x":0.69,"y":59.5},{"x":0.77,"y":59.5},{"x":0.85,"y":59.5},{"x":0.93,"y":59.5},{"x":1.01,"y":59.5},{"x":1.09,"y":59.5},{"x":1.17,"y":59.5},{"x":1.25,"y":59.5},{"x":1.33,"y":59.5},{"x":1.4,"y":59.5},
{"x":0.61,"y":60.6},{"x":0.69,"y":60.6},{"x":0.77,"y":60.6},{"x":0.85,"y":60.6},{"x":0.93,"y":60.6},{"x":1.01,"y":60.6},{"x":1.09,"y":60.6},{"x":1.17,"y":60.6},{"x":1.25,"y":60.6},{"x":1.33,"y":60.6},{"x":1.4,"y":60.6},
{"x":0.61,"y":61.8},{"x":0.69,"y":61.8},{"x":0.77,"y":61.8},{"x":0.85,"y":61.8},{"x":0.93,"y":61.8},{"x":1.01,"y":61.8},{"x":1.09,"y":61.8},{"x":1.17,"y":61.8},{"x":1.25,"y":61.8},{"x":1.33,"y":61.8},{"x":1.4,"y":61.8},
{"x":0.65,"y":55.7},{"x":0.73,"y":55.7},{"x":0.81,"y":55.7},{"x":0.89,"y":55.7},{"x":0.97,"y":55.7},{"x":1.05,"y":55.7},{"x":1.13,"y":55.7},{"x":1.21,"y":55.7},{"x":1.29,"y":55.7},{"x":1.37,"y":55.7},
{"x":0.65,"y":56.9},{"x":0.73,"y":56.9},{"x":0.81,"y":56.9},{"x":0.89,"y":56.9},{"x":0.97,"y":56.9},{"x":1.05,"y":56.9},{"x":1.13,"y":56.9},{"x":1.21,"y":56.9},{"x":1.29,"y":56.9},{"x":1.37,"y":56.9},
{"x":0.65,"y":58.1},{"x":0.73,"y":58.1},{"x":0.81,"y":58.1},{"x":0.89,"y":58.1},{"x":0.97,"y":58.1},{"x":1.05,"y":58.1},{"x":1.13,"y":58.1},{"x":1.21,"y":58.1},{"x":1.29,"y":58.1},{"x":1.37,"y":58.1},
{"x":0.65,"y":59.3},{"x":0.73,"y":59.3},{"x":0.81,"y":59.3},{"x":0.89,"y":59.3},{"x":0.97,"y":59.3},{"x":1.05,"y":59.3},{"x":1.13,"y":59.3},{"x":1.21,"y":59.3},{"x":1.29,"y":59.3},{"x":1.37,"y":59.3},
{"x":0.65,"y":60.5},{"x":0.73,"y":60.5},{"x":0.81,"y":60.5},{"x":0.89,"y":60.5},{"x":0.97,"y":60.5},{"x":1.05,"y":60.5},{"x":1.13,"y":60.5},{"x":1.21,"y":60.5},{"x":1.29,"y":60.5},{"x":1.37,"y":60.5},
{"x":0.65,"y":61.7},{"x":0.73,"y":61.7},{"x":0.81,"y":61.7},{"x":0.89,"y":61.7},{"x":0.97,"y":61.7},{"x":1.05,"y":61.7},{"x":1.13,"y":61.7},{"x":1.21,"y":61.7},{"x":1.29,"y":61.7},{"x":1.37,"y":61.7},
{"x":0.63,"y":62.8},{"x":0.71,"y":63.4},{"x":0.8,"y":62.6},{"x":0.88,"y":63.1},{"x":0.96,"y":62.9},{"x":1.05,"y":63.5},{"x":1.13,"y":62.7},{"x":1.22,"y":63.2},{"x":1.3,"y":62.6},{"x":1.38,"y":63.3},{"x":0.68,"y":64},{"x":0.85,"y":64.6},{"x":1,"y":64.2},{"x":1.16,"y":64.5},{"x":1.27,"y":64},{"x":1.35,"y":64.8},{"x":0.93,"y":65.2},{"x":0.77,"y":62.3},{"x":1.09,"y":62.4},{"x":1.25,"y":62.3},{"x":0.66,"y":62.5},{"x":1.4,"y":62.5},
{"x":0.62,"y":62.4},{"x":0.7,"y":62.9},{"x":0.78,"y":63.3},{"x":0.87,"y":62.5},{"x":0.95,"y":63.6},{"x":1.03,"y":62.8},{"x":1.12,"y":63.3},{"x":1.2,"y":62.6},{"x":1.29,"y":63.7},{"x":1.37,"y":62.9},
{"x":1.13,"y":69},{"x":0.98,"y":67.1},{"x":0.86,"y":66.7},{"x":0.72,"y":66},{"x":0.91,"y":65.7},{"x":1.35,"y":66.7},{"x":1.32,"y":66},{"x":0.64,"y":64.1},{"x":0.82,"y":64.3},{"x":1.11,"y":64.1},{"x":1.37,"y":63.9},{"x":0.76,"y":65.2},
{"x":0.62,"y":54.8},{"x":0.71,"y":54.8},{"x":0.8,"y":54.8},{"x":0.89,"y":54.8},{"x":0.98,"y":54.8},{"x":1.07,"y":54.8},{"x":1.16,"y":54.8},{"x":1.25,"y":54.8},{"x":1.34,"y":54.8},
{"x":0.66,"y":54.1},{"x":0.75,"y":54.1},{"x":0.84,"y":54.1},{"x":0.93,"y":54.1},{"x":1.02,"y":54.1},{"x":1.11,"y":54.1},{"x":1.2,"y":54.1},{"x":1.29,"y":54.1},{"x":1.38,"y":54.1},
{"x":0.63,"y":53.3},{"x":0.74,"y":53.3},{"x":0.86,"y":53.3},{"x":0.98,"y":53.3},{"x":1.1,"y":53.3},{"x":1.22,"y":53.3},{"x":1.34,"y":53.3},
{"x":0.68,"y":52.4},{"x":0.8,"y":52.4},{"x":0.95,"y":52.4},{"x":1.08,"y":52.4},{"x":1.2,"y":52.4},{"x":1.33,"y":52.4},
{"x":0.62,"y":51.4},{"x":0.75,"y":51.4},{"x":0.88,"y":51.4},{"x":1,"y":51.4},{"x":1.15,"y":51.4},{"x":1.28,"y":51.4},{"x":1.39,"y":51.4},
{"x":0.67,"y":50.5},{"x":0.8,"y":50.5},{"x":0.93,"y":50.5},{"x":1.06,"y":50.5},{"x":1.19,"y":50.5},{"x":1.32,"y":50.5},
{"x":0.64,"y":49.6},{"x":0.78,"y":49.6},{"x":0.92,"y":49.6},{"x":1.05,"y":49.6},{"x":1.18,"y":49.6},{"x":1.31,"y":49.6},{"x":1.4,"y":49.6},
{"x":0.7,"y":48.6},{"x":0.85,"y":48.6},{"x":1,"y":48.6},{"x":1.13,"y":48.6},{"x":1.27,"y":48.6},{"x":1.37,"y":48.6},
{"x":0.63,"y":47.6},{"x":0.77,"y":47.6},{"x":0.92,"y":47.6},{"x":1.08,"y":47.6},{"x":1.22,"y":47.6},{"x":1.35,"y":47.6},
{"x":0.69,"y":46.6},{"x":0.85,"y":46.6},{"x":1,"y":46.6},{"x":1.16,"y":46.6},{"x":1.3,"y":46.6},
{"x":0.65,"y":45.7},{"x":0.8,"y":45.7},{"x":0.97,"y":45.7},{"x":1.12,"y":45.7},{"x":1.28,"y":45.7},{"x":1.38,"y":45.7},
{"x":0.64,"y":54.5},{"x":0.73,"y":54.5},{"x":0.82,"y":54.5},{"x":0.91,"y":54.5},{"x":1,"y":54.5},{"x":1.09,"y":54.5},{"x":1.18,"y":54.5},{"x":1.27,"y":54.5},{"x":1.36,"y":54.5},
{"x":0.61,"y":53.7},{"x":0.7,"y":53.7},{"x":0.8,"y":53.7},{"x":0.92,"y":53.7},{"x":1.04,"y":53.7},{"x":1.16,"y":53.7},{"x":1.28,"y":53.7},{"x":1.39,"y":53.7},
{"x":0.66,"y":52.9},{"x":0.78,"y":52.9},{"x":0.9,"y":52.9},{"x":1.02,"y":52.9},{"x":1.14,"y":52.9},{"x":1.26,"y":52.9},{"x":1.37,"y":52.9},
{"x":0.7,"y":51.9},{"x":0.84,"y":51.9},{"x":0.97,"y":51.9},{"x":1.1,"y":51.9},{"x":1.24,"y":51.9},{"x":1.35,"y":51.9},
{"x":0.72,"y":50},{"x":0.86,"y":50},{"x":0.99,"y":50},{"x":1.12,"y":50},{"x":1.25,"y":50},{"x":1.38,"y":50},
{"x":0.62,"y":45.5},{"x":0.72,"y":44.8},{"x":0.83,"y":44.6},{"x":1.08,"y":45.2},{"x":1.17,"y":44.8},{"x":1.13,"y":44},{"x":1.32,"y":43.6},{"x":1.34,"y":45.9},{"x":1,"y":43.3},{"x":0.98,"y":42.6},{"x":0.67,"y":41.8},{"x":0.66,"y":40.6},{"x":0.72,"y":39.6},{"x":0.81,"y":41.1},{"x":0.88,"y":42},{"x":1.06,"y":41.3},{"x":1.13,"y":41.8},{"x":1.22,"y":41.1},{"x":1.32,"y":41.1},{"x":0.95,"y":39.5},{"x":1.05,"y":39.3},{"x":1.24,"y":39.6},{"x":1.4,"y":40.1},{"x":1.34,"y":39.1},{"x":0.64,"y":38.1},{"x":0.82,"y":37.6},{"x":0.88,"y":37.3},{"x":0.95,"y":37},{"x":1.11,"y":38.6},{"x":1.15,"y":37.1},{"x":1.27,"y":38.5},{"x":1.35,"y":37.6},{"x":1.29,"y":36.5},{"x":0.79,"y":35.5},{"x":1.11,"y":35.3},{"x":0.91,"y":34.2},{"x":0.91,"y":33.7},{"x":1.17,"y":33.7},{"x":0.95,"y":33.1},{"x":1.3,"y":32.7},{"x":1.05,"y":32.3},{"x":1.17,"y":32.3},{"x":0.76,"y":31.7},{"x":0.93,"y":31.7},{"x":1.27,"y":31.7},{"x":0.96,"y":30.2},{"x":1,"y":29.7},{"x":1.19,"y":30.4},{"x":1.27,"y":30.1},{"x":0.64,"y":29.4},{"x":1.13,"y":28.2},{"x":0.82,"y":27.7},{"x":0.9,"y":27.9},{"x":1.22,"y":27.2},{"x":1.32,"y":25.9},{"x":0.66,"y":23.5},{"x":0.65,"y":23.4},{"x":0.91,"y":24},{"x":1.03,"y":22.3},
{"x":1.62,"y":53.8},{"x":1.71,"y":53.8},{"x":1.8,"y":53.8},{"x":1.89,"y":53.8},{"x":1.98,"y":53.8},{"x":2.07,"y":53.8},{"x":2.16,"y":53.8},{"x":2.25,"y":53.8},{"x":2.34,"y":53.8},{"x":2.4,"y":53.8},
{"x":1.62,"y":54.8},{"x":1.71,"y":54.8},{"x":1.8,"y":54.8},{"x":1.89,"y":54.8},{"x":1.98,"y":54.8},{"x":2.07,"y":54.8},{"x":2.16,"y":54.8},{"x":2.25,"y":54.8},{"x":2.34,"y":54.8},{"x":2.4,"y":54.8},
{"x":1.62,"y":55.8},{"x":1.71,"y":55.8},{"x":1.8,"y":55.8},{"x":1.89,"y":55.8},{"x":1.98,"y":55.8},{"x":2.07,"y":55.8},{"x":2.16,"y":55.8},{"x":2.25,"y":55.8},{"x":2.34,"y":55.8},{"x":2.4,"y":55.8},
{"x":1.62,"y":56.8},{"x":1.71,"y":56.8},{"x":1.8,"y":56.8},{"x":1.89,"y":56.8},{"x":1.98,"y":56.8},{"x":2.07,"y":56.8},{"x":2.16,"y":56.8},{"x":2.25,"y":56.8},{"x":2.34,"y":56.8},{"x":2.4,"y":56.8},
{"x":1.62,"y":57.8},{"x":1.71,"y":57.8},{"x":1.8,"y":57.8},{"x":1.89,"y":57.8},{"x":1.98,"y":57.8},{"x":2.07,"y":57.8},{"x":2.16,"y":57.8},{"x":2.25,"y":57.8},{"x":2.34,"y":57.8},{"x":2.4,"y":57.8},
{"x":1.62,"y":58.8},{"x":1.71,"y":58.8},{"x":1.8,"y":58.8},{"x":1.89,"y":58.8},{"x":1.98,"y":58.8},{"x":2.07,"y":58.8},{"x":2.16,"y":58.8},{"x":2.25,"y":58.8},{"x":2.34,"y":58.8},{"x":2.4,"y":58.8},
{"x":1.62,"y":59.8},{"x":1.71,"y":59.8},{"x":1.8,"y":59.8},{"x":1.89,"y":59.8},{"x":1.98,"y":59.8},{"x":2.07,"y":59.8},{"x":2.16,"y":59.8},{"x":2.25,"y":59.8},{"x":2.34,"y":59.8},{"x":2.4,"y":59.8},
{"x":1.62,"y":60.8},{"x":1.71,"y":60.8},{"x":1.8,"y":60.8},{"x":1.89,"y":60.8},{"x":1.98,"y":60.8},{"x":2.07,"y":60.8},{"x":2.16,"y":60.8},{"x":2.25,"y":60.8},{"x":2.34,"y":60.8},{"x":2.4,"y":60.8},
{"x":1.62,"y":61.6},{"x":1.71,"y":61.6},{"x":1.8,"y":61.6},{"x":1.89,"y":61.6},{"x":1.98,"y":61.6},{"x":2.07,"y":61.6},{"x":2.16,"y":61.6},{"x":2.25,"y":61.6},{"x":2.34,"y":61.6},{"x":2.4,"y":61.6},
{"x":1.66,"y":54.3},{"x":1.75,"y":54.3},{"x":1.85,"y":54.3},{"x":1.94,"y":54.3},{"x":2.03,"y":54.3},{"x":2.12,"y":54.3},{"x":2.21,"y":54.3},{"x":2.3,"y":54.3},{"x":2.38,"y":54.3},
{"x":1.66,"y":55.3},{"x":1.75,"y":55.3},{"x":1.85,"y":55.3},{"x":1.94,"y":55.3},{"x":2.03,"y":55.3},{"x":2.12,"y":55.3},{"x":2.21,"y":55.3},{"x":2.3,"y":55.3},{"x":2.38,"y":55.3},
{"x":1.66,"y":56.3},{"x":1.75,"y":56.3},{"x":1.85,"y":56.3},{"x":1.94,"y":56.3},{"x":2.03,"y":56.3},{"x":2.12,"y":56.3},{"x":2.21,"y":56.3},{"x":2.3,"y":56.3},{"x":2.38,"y":56.3},
{"x":1.66,"y":57.3},{"x":1.75,"y":57.3},{"x":1.85,"y":57.3},{"x":1.94,"y":57.3},{"x":2.03,"y":57.3},{"x":2.12,"y":57.3},{"x":2.21,"y":57.3},{"x":2.3,"y":57.3},{"x":2.38,"y":57.3},
{"x":1.66,"y":58.3},{"x":1.75,"y":58.3},{"x":1.85,"y":58.3},{"x":1.94,"y":58.3},{"x":2.03,"y":58.3},{"x":2.12,"y":58.3},{"x":2.21,"y":58.3},{"x":2.3,"y":58.3},{"x":2.38,"y":58.3},
{"x":1.66,"y":59.3},{"x":1.75,"y":59.3},{"x":1.85,"y":59.3},{"x":1.94,"y":59.3},{"x":2.03,"y":59.3},{"x":2.12,"y":59.3},{"x":2.21,"y":59.3},{"x":2.3,"y":59.3},{"x":2.38,"y":59.3},
{"x":1.66,"y":60.3},{"x":1.75,"y":60.3},{"x":1.85,"y":60.3},{"x":1.94,"y":60.3},{"x":2.03,"y":60.3},{"x":2.12,"y":60.3},{"x":2.21,"y":60.3},{"x":2.3,"y":60.3},{"x":2.38,"y":60.3},
{"x":1.66,"y":61.2},{"x":1.75,"y":61.2},{"x":1.85,"y":61.2},{"x":1.94,"y":61.2},{"x":2.03,"y":61.2},{"x":2.12,"y":61.2},{"x":2.21,"y":61.2},{"x":2.3,"y":61.2},{"x":2.38,"y":61.2},
{"x":1.64,"y":54.6},{"x":1.73,"y":54.6},{"x":1.82,"y":54.6},{"x":1.91,"y":54.6},{"x":2,"y":54.6},{"x":2.09,"y":54.6},{"x":2.18,"y":54.6},{"x":2.27,"y":54.6},{"x":2.36,"y":54.6},
{"x":1.64,"y":55.9},{"x":1.73,"y":55.9},{"x":1.82,"y":55.9},{"x":1.91,"y":55.9},{"x":2,"y":55.9},{"x":2.09,"y":55.9},{"x":2.18,"y":55.9},{"x":2.27,"y":55.9},{"x":2.36,"y":55.9},
{"x":1.64,"y":57.1},{"x":1.73,"y":57.1},{"x":1.82,"y":57.1},{"x":1.91,"y":57.1},{"x":2,"y":57.1},{"x":2.09,"y":57.1},{"x":2.18,"y":57.1},{"x":2.27,"y":57.1},{"x":2.36,"y":57.1},
{"x":1.64,"y":58.4},{"x":1.73,"y":58.4},{"x":1.82,"y":58.4},{"x":1.91,"y":58.4},{"x":2,"y":58.4},{"x":2.09,"y":58.4},{"x":2.18,"y":58.4},{"x":2.27,"y":58.4},{"x":2.36,"y":58.4},
{"x":1.64,"y":59.6},{"x":1.73,"y":59.6},{"x":1.82,"y":59.6},{"x":1.91,"y":59.6},{"x":2,"y":59.6},{"x":2.09,"y":59.6},{"x":2.18,"y":59.6},{"x":2.27,"y":59.6},{"x":2.36,"y":59.6},
{"x":1.64,"y":60.9},{"x":1.73,"y":60.9},{"x":1.82,"y":60.9},{"x":1.91,"y":60.9},{"x":2,"y":60.9},{"x":2.09,"y":60.9},{"x":2.18,"y":60.9},{"x":2.27,"y":60.9},{"x":2.36,"y":60.9},
{"x":1.79,"y":65.7},{"x":2.03,"y":66},{"x":2.08,"y":65.2},{"x":1.77,"y":63.7},{"x":1.68,"y":62.9},{"x":1.64,"y":62.3},{"x":2,"y":62.6},{"x":2.1,"y":62.3},{"x":2.36,"y":61.4},{"x":2.32,"y":61.8},{"x":1.9,"y":62.1},
{"x":1.65,"y":52.8},{"x":1.78,"y":52.3},{"x":1.92,"y":52.9},{"x":2.05,"y":52.4},{"x":2.18,"y":52.8},{"x":2.31,"y":52.2},{"x":2.39,"y":52.9},{"x":1.7,"y":51.4},{"x":1.84,"y":51},{"x":1.98,"y":51.6},{"x":2.12,"y":51.2},{"x":2.26,"y":51.5},{"x":2.37,"y":50.9},{"x":1.63,"y":50},{"x":1.76,"y":49.6},{"x":1.9,"y":50.2},{"x":2.04,"y":49.8},{"x":2.2,"y":50.1},{"x":2.33,"y":49.5},{"x":1.68,"y":48.5},{"x":1.82,"y":48.9},{"x":1.96,"y":48.2},{"x":2.1,"y":48.7},{"x":2.24,"y":48.3},{"x":2.38,"y":48.8},{"x":1.72,"y":47.2},{"x":1.86,"y":46.8},{"x":2,"y":47.4},{"x":2.14,"y":46.9},{"x":2.28,"y":47.3},{"x":1.65,"y":45.8},{"x":1.8,"y":46.2},{"x":2.08,"y":45.6},{"x":2.22,"y":46},{"x":2.35,"y":45.5},
{"x":1.64,"y":44.6},{"x":1.71,"y":44.8},{"x":1.81,"y":45},{"x":1.68,"y":43.5},{"x":1.81,"y":45.7},{"x":2.08,"y":44.8},{"x":2.13,"y":45},{"x":2.24,"y":45.1},{"x":2.26,"y":44},{"x":2.37,"y":45.7},{"x":2.12,"y":42.3},{"x":2.17,"y":41},{"x":1.98,"y":40.5},{"x":2.03,"y":40},{"x":1.66,"y":39.5},{"x":1.78,"y":39.5},{"x":1.78,"y":38.5},{"x":1.88,"y":38.8},{"x":1.93,"y":38.1},{"x":2.34,"y":39.6},{"x":2.32,"y":38.6},{"x":2.16,"y":37.1},{"x":2.22,"y":36.6},{"x":2.19,"y":36},{"x":1.66,"y":35.8},{"x":1.76,"y":36.1},{"x":1.88,"y":35.6},{"x":1.76,"y":33.9},{"x":1.87,"y":33.9},{"x":2,"y":31.9},{"x":1.63,"y":29.1},{"x":1.73,"y":28.4},{"x":1.79,"y":27.7},{"x":1.93,"y":29.4},{"x":1.95,"y":28.7},{"x":1.93,"y":28.1},{"x":2.1,"y":29.8},{"x":2.17,"y":27.9},{"x":2.24,"y":28.2},{"x":1.83,"y":25.9},{"x":1.78,"y":25.1},{"x":1.85,"y":23.2},{"x":2.38,"y":25.4},{"x":2.41,"y":23.5},{"x":1.95,"y":18.8},{"x":2.02,"y":19.1},
{"x":2.67,"y":68.1},{"x":3.38,"y":64.5},{"x":2.63,"y":63.5},{"x":2.92,"y":63.4},{"x":2.75,"y":62.6},{"x":2.76,"y":62.1},{"x":3.04,"y":62.2},{"x":3.35,"y":62.3},{"x":3.15,"y":61.4},{"x":3.21,"y":61.4},
{"x":2.61,"y":60.4},{"x":2.68,"y":60.3},{"x":2.8,"y":60.1},{"x":2.89,"y":60.4},{"x":3.02,"y":60.4},{"x":3.09,"y":59.8},{"x":3.18,"y":59.4},{"x":3.31,"y":60.1},{"x":3.38,"y":59.6},{"x":2.63,"y":58.9},{"x":2.75,"y":57.9},{"x":2.84,"y":58.6},{"x":2.89,"y":59.1},{"x":3.04,"y":57.9},{"x":3,"y":57.8},{"x":3.11,"y":57.9},{"x":3.23,"y":58.8},{"x":3.29,"y":57.4},{"x":3.41,"y":58.6},{"x":2.61,"y":57.1},{"x":2.7,"y":56.8},{"x":2.83,"y":55.9},{"x":2.97,"y":55.6},{"x":3.09,"y":56.4},{"x":3.17,"y":55.8},{"x":3.21,"y":55.1},{"x":3.18,"y":55},{"x":3.31,"y":55.4},{"x":3.38,"y":56.1},{"x":2.63,"y":54.2},{"x":2.7,"y":53.9},{"x":2.76,"y":54.5},{"x":2.8,"y":54.7},{"x":2.84,"y":53.9},{"x":3.04,"y":54.2},{"x":3.15,"y":54.2},{"x":3.26,"y":54.4},{"x":3.41,"y":53.5},{"x":2.72,"y":61.1},{"x":2.85,"y":61.1},{"x":3.09,"y":61.1},{"x":3.26,"y":60.9},{"x":2.81,"y":59.4},{"x":2.95,"y":59.8},{"x":3.04,"y":59.3},{"x":2.71,"y":57.1},{"x":3.14,"y":57.1},{"x":3.24,"y":56.8},{"x":2.92,"y":56.8},{"x":3.05,"y":58.4},{"x":3.33,"y":57.9},{"x":3.19,"y":57.3},{"x":2.8,"y":55.4},{"x":2.89,"y":55.3},{"x":2.61,"y":55.8},{"x":3.02,"y":58},{"x":3.03,"y":57.7},{"x":2.98,"y":58.2},{"x":3.16,"y":55.6},{"x":3.19,"y":55.3},
{"x":2.83,"y":51.2},{"x":2.78,"y":51.5},{"x":2.7,"y":50.9},{"x":3.02,"y":50.9},{"x":3.05,"y":50},{"x":3.18,"y":51.4},{"x":3.36,"y":51.2},{"x":3.29,"y":50.2},{"x":2.68,"y":48.2},{"x":2.8,"y":49},{"x":2.84,"y":47.2},{"x":2.89,"y":47},{"x":3.05,"y":48.2},{"x":3.14,"y":47.9},{"x":3.23,"y":48.2},{"x":3.29,"y":49},{"x":3.19,"y":47.2},{"x":3.41,"y":47.2},
{"x":2.63,"y":45.9},{"x":2.76,"y":46.5},{"x":2.85,"y":46.9},{"x":2.94,"y":46.7},{"x":3.23,"y":46.5},{"x":2.9,"y":45.5},{"x":2.99,"y":44.8},{"x":2.76,"y":44.3},{"x":2.8,"y":43.8},{"x":2.87,"y":43},{"x":2.94,"y":43},{"x":3.12,"y":43.8},{"x":3.39,"y":45},{"x":3.37,"y":41.4},{"x":2.63,"y":40.6},{"x":3.05,"y":39.7},{"x":3.23,"y":38.2},{"x":3.09,"y":37.5},{"x":3.04,"y":37.2},{"x":3.37,"y":37.5},{"x":2.61,"y":36.9},{"x":3.18,"y":35.7},{"x":3.06,"y":34.6},{"x":2.95,"y":33.1},{"x":2.85,"y":32},{"x":3.37,"y":31.7},{"x":3.12,"y":29.5},{"x":3.25,"y":26.5},
{"x":4.23,"y":66.8},{"x":3.94,"y":65.5},{"x":3.61,"y":62.3},{"x":4.26,"y":61.4},{"x":4.4,"y":61.4},{"x":3.96,"y":60.8},{"x":4.12,"y":60.8},{"x":3.87,"y":60.5},{"x":3.62,"y":60.5},{"x":3.7,"y":60.4},{"x":4.28,"y":60.4},{"x":4.37,"y":59.8},{"x":3.86,"y":59.3},{"x":3.63,"y":59.4},{"x":3.62,"y":58.1},{"x":3.67,"y":57.2},{"x":3.8,"y":58.1},{"x":3.84,"y":57.9},{"x":3.94,"y":58.1},{"x":4.06,"y":58.3},{"x":4.17,"y":57.9},{"x":4.36,"y":58.1},{"x":3.78,"y":57.1},{"x":3.89,"y":57.1},{"x":4.01,"y":57.1},{"x":4.09,"y":57.8},{"x":4.26,"y":56.8},{"x":4.38,"y":57.1},{"x":3.78,"y":55.9},{"x":3.97,"y":55.9},{"x":4.07,"y":55.8},{"x":4.18,"y":55.8},{"x":4.36,"y":55.9},{"x":3.63,"y":55.4},{"x":3.65,"y":53.9},{"x":3.84,"y":54.4},{"x":3.91,"y":53.9},{"x":3.94,"y":54},{"x":3.86,"y":53.4},{"x":4.01,"y":52.9},{"x":3.99,"y":53.2},{"x":3.77,"y":52.7},{"x":4.25,"y":52.2},{"x":4.28,"y":52},{"x":4.36,"y":52.9},{"x":3.63,"y":51.5},{"x":4.01,"y":50.5},{"x":3.68,"y":50},{"x":4.18,"y":50},{"x":3.62,"y":49},{"x":3.7,"y":48.7},{"x":3.82,"y":48.9},{"x":4.21,"y":49},{"x":4.31,"y":48},{"x":4.35,"y":48},{"x":4,"y":47.9},{"x":3.77,"y":47.2},{"x":4.15,"y":45.5},{"x":3.82,"y":45.5},{"x":3.87,"y":44.9},{"x":3.68,"y":44.9},{"x":3.68,"y":44.2},{"x":3.82,"y":41.8},{"x":3.72,"y":39},{"x":3.85,"y":38.7},{"x":4.04,"y":38.7},{"x":4.14,"y":38.7},{"x":4.2,"y":38.7},{"x":3.68,"y":36.9},{"x":4.41,"y":35.9},{"x":4.01,"y":34.6},{"x":4.23,"y":34.1},{"x":3.87,"y":33.1},{"x":4.03,"y":33.4},{"x":3.97,"y":32.7},{"x":3.67,"y":32.1},{"x":4.14,"y":31.1},{"x":4.03,"y":30.5},{"x":4.13,"y":29.2},{"x":3.98,"y":26.6},{"x":4.24,"y":25.8},{"x":4.39,"y":24.8},{"x":4.05,"y":23.5},{"x":3.86,"y":58.2},{"x":3.88,"y":57.6},{"x":4.02,"y":56.7},
{"x":5,"y":62.8},{"x":4.97,"y":62.4},{"x":4.62,"y":59.9},{"x":4.74,"y":60.3},{"x":4.65,"y":58.8},{"x":5.2,"y":59.9},{"x":4.83,"y":58},{"x":4.88,"y":57.9},{"x":5.04,"y":58.6},{"x":5.03,"y":57.9},{"x":4.95,"y":56.9},{"x":5.39,"y":58.3},{"x":5.32,"y":57.3},{"x":4.86,"y":55.9},{"x":4.73,"y":55.3},{"x":4.94,"y":55},{"x":4.9,"y":53.1},{"x":4.68,"y":52},{"x":4.86,"y":50.4},{"x":4.94,"y":49.1},{"x":5.13,"y":45.4},{"x":5.18,"y":42},{"x":4.81,"y":35.9},{"x":5,"y":32.5},{"x":5.15,"y":33.1},{"x":4.98,"y":30.4},{"x":5.3,"y":29.1},{"x":4.92,"y":24.5},{"x":5.73,"y":60.3},{"x":5.79,"y":53.9},{"x":5.67,"y":39.7},
{"x":5.99,"y":56.1},{"x":6.1,"y":54.8},{"x":6.2,"y":54.5},{"x":6.02,"y":53.6},{"x":5.88,"y":50.6},{"x":6.05,"y":48.6},{"x":6.11,"y":46.9},{"x":6.21,"y":27.7},{"x":7.07,"y":58.3}
],
"fit":[
{"x":0,"fit":55.15,"lo":54.7,"hi":55.6},{"x":0.5,"fit":54.72,"lo":54.42,"hi":55.02},{"x":1,"fit":54.28,"lo":54.06,"hi":54.5},{"x":1.5,"fit":53.85,"lo":53.6,"hi":54.1},{"x":2,"fit":53.42,"lo":53.05,"hi":53.79},{"x":2.5,"fit":52.99,"lo":52.45,"hi":53.53},{"x":3,"fit":52.56,"lo":51.84,"hi":53.28},{"x":3.5,"fit":52.12,"lo":51.2,"hi":53.04},{"x":4,"fit":51.69,"lo":50.57,"hi":52.81},{"x":4.5,"fit":51.26,"lo":49.93,"hi":52.59},{"x":5,"fit":50.83,"lo":49.28,"hi":52.38},{"x":5.5,"fit":50.4,"lo":48.64,"hi":52.16},{"x":6,"fit":49.96,"lo":47.98,"hi":51.94},{"x":6.5,"fit":49.53,"lo":47.32,"hi":51.74},{"x":7,"fit":49.1,"lo":46.5,"hi":51.6}
]},
"layer":[
{"data":{"name":"pts"},"mark":{"type":"circle","size":135,"color":"#008B8B","opacity":0.2},
"encoding":{
"x":{"field":"x","type":"quantitative","scale":{"domain":[-0.748,7.398],"nice":false,"zero":false},
"axis":{"title":"Cumulative adversity","values":[0,1,2,3,4,5,6,7],"format":"d","labelExpr":"datum.value % 2 === 0 ? datum.label : ''","tickOpacity":{"condition":{"test":"datum.value % 2 === 0","value":1},"value":0},"gridColor":{"condition":{"test":"datum.value % 2 === 0","value":"#e0e0e0"},"value":"#ececec"},"titlePadding":3}},
"y":{"field":"y","type":"quantitative","scale":{"domain":[16.24,72.18],"nice":false,"zero":false},
"axis":{"title":"Mental wellbeing (MCS)","values":[20,25,30,35,40,45,50,55,60,65,70],"format":"d","labelExpr":"datum.value % 10 === 0 ? datum.label : ''","tickOpacity":{"condition":{"test":"datum.value % 10 === 0","value":1},"value":0},"gridColor":{"condition":{"test":"datum.value % 10 === 0","value":"#e0e0e0"},"value":"#ececec"},"titlePadding":11}}}},
{"data":{"name":"fit"},"mark":{"type":"area","color":"#999999","opacity":0.4},
"encoding":{"x":{"field":"x","type":"quantitative","title":"Cumulative adversity"},"y":{"field":"lo","type":"quantitative","title":"Mental wellbeing (MCS)"},"y2":{"field":"hi"}}},
{"data":{"name":"fit"},"mark":{"type":"line","color":"#3366FF","strokeWidth":6},
"encoding":{"x":{"field":"x","type":"quantitative","title":"Cumulative adversity"},"y":{"field":"fit","type":"quantitative","title":"Mental wellbeing (MCS)"}}}
]}
